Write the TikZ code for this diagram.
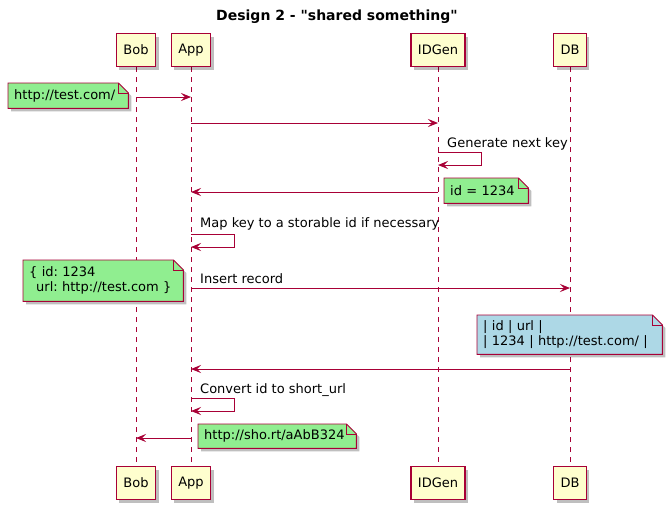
\documentclass[tikz,border=0pt]{standalone}
\usepackage{fontspec}
\setmainfont{DejaVu Sans}[Ligatures=TeXOff]
\usetikzlibrary{positioning, arrows.meta, shadows}
\definecolor{umlred}{HTML}{A80036}
\definecolor{umlbox}{HTML}{FEFECE}
\definecolor{umlgreen}{HTML}{90EE90}
\definecolor{umlblue}{HTML}{ADD8E6}
\pgfdeclarelayer{back}
\pgfdeclarelayer{notes}
\pgfsetlayers{back,notes,main}
\frenchspacing
\tikzstyle{Msg} = [
%message arrow
draw=umlred, line width=0.9pt,
-{Stealth[length=10pt, width=8pt, inset=4pt]}
]
%note with folded corner, drawn under its text node
\newcommand{\dogear}[2]{%
\begin{pgfonlayer}{notes}
\filldraw[fill=#2, draw=umlred, line width=0.9pt, drop shadow={shadow xshift=3pt, shadow yshift=-3pt, fill=black, opacity=0.25}]
(#1.south west) -- (#1.north west) -- ([xshift=-10pt]#1.north east)
-- ([yshift=-10pt]#1.north east) -- (#1.south east) -- cycle;
\draw[umlred, line width=0.9pt] ([xshift=-10pt]#1.north east) |- ([yshift=-10pt]#1.north east);
\end{pgfonlayer}}

\begin{document}
\begin{tikzpicture}[x=1pt, y=-1pt,
				font=\fontsize{13}{15}\selectfont,
				actor/.style = {rectangle, draw=umlred, line width=1.2pt, fill=umlbox, minimum height=33pt, inner xsep=7pt, drop shadow={shadow xshift=3pt, shadow yshift=-3pt, fill=black, opacity=0.25}},
				lifeline/.style = {draw=umlred, line width=0.8pt, dash pattern=on 5pt off 5pt},
				note/.style = {anchor=north west, inner xsep=6pt, inner ysep=0pt, align=left},
				msglabel/.style = {anchor=west, inner sep=0pt},
			]
			\useasboundingbox (0,0) rectangle (672,509);
			\begin{pgfonlayer}{back}
				\fill[white] (0,0) rectangle (672,509);
			\end{pgfonlayer}

			\node[font=\fontsize{14}{16}\selectfont\bfseries] (title) at (337,17) {Design 2 - "shared something"};

			\node[actor] (bobTop) at (136,50) {Bob};
			\node[actor] (appTop) at (191,50) {App};
			\node[actor] (idgenTop) at (438,50) {IDGen};
			\node[actor] (dbTop) at (570,50) {DB};
			\node[actor] (bobBot) at (136,483) {Bob};
			\node[actor] (appBot) at (191,483) {App};
			\node[actor] (idgenBot) at (438,483) {IDGen};
			\node[actor] (dbBot) at (570,483) {DB};

			\begin{pgfonlayer}{back}
				\draw[lifeline](bobTop)--(bobBot);
				\draw[lifeline](appTop)--(appBot);
				\draw[lifeline](idgenTop)--(idgenBot);
				\draw[lifeline](dbTop)--(dbBot);
			\end{pgfonlayer}

			% notes
			\node[note, text width=108pt, minimum height=25pt] (noteUrl) at (8,83) {http://test.com/};
			\node[note, text width=72pt, minimum height=25pt] (noteId) at (444,178) {id = 1234};
			\node[note, text width=148pt, minimum height=41pt] (noteRec) at (23,260) {\{ id: 1234\\\hspace*{7pt}url: http://test.com \}};
			\node[note, text width=173pt, minimum height=39pt] (noteRow) at (477,315) {| id | url |\\| 1234 | http://test.com/ |};
			\node[note, text width=146pt, minimum height=24pt] (noteShort) at (198,424) {http://sho.rt/aAbB324};
			\dogear{noteUrl}{umlgreen}
			\dogear{noteId}{umlgreen}
			\dogear{noteRec}{umlgreen}
			\dogear{noteRow}{umlblue}
			\dogear{noteShort}{umlgreen}

			% messages
			\draw[Msg](bobTop |- 0,97)--(appTop |- 0,97);
			\draw[Msg](appTop |- 0,123)--(idgenTop |- 0,123);
			\node[msglabel] (lblGen) at (447,144) {Generate next key};
			\draw[Msg](idgenTop |- 0,152)--++(43,0)--++(0,13)--(idgenTop |- 0,165);
			\draw[Msg](idgenTop |- 0,192)--(appTop |- 0,192);
			\node[msglabel] (lblMap) at (200,224) {Map key to a storable id if necessary};
			\draw[Msg](appTop |- 0,234)--++(43,0)--++(0,13)--(appTop |- 0,247);
			\node[msglabel] (lblIns) at (200,279) {Insert record};
			\draw[Msg](appTop |- 0,288)--(dbTop |- 0,288);
			\draw[Msg](dbTop |- 0,369)--(appTop |- 0,369);
			\node[msglabel] (lblConv) at (200,390) {Convert id to short\_url};
			\draw[Msg](appTop |- 0,398)--++(43,0)--++(0,13)--(appTop |- 0,411);
			\draw[Msg](appTop |- 0,438)--(bobTop |- 0,438);

		\end{tikzpicture}
\end{document}
